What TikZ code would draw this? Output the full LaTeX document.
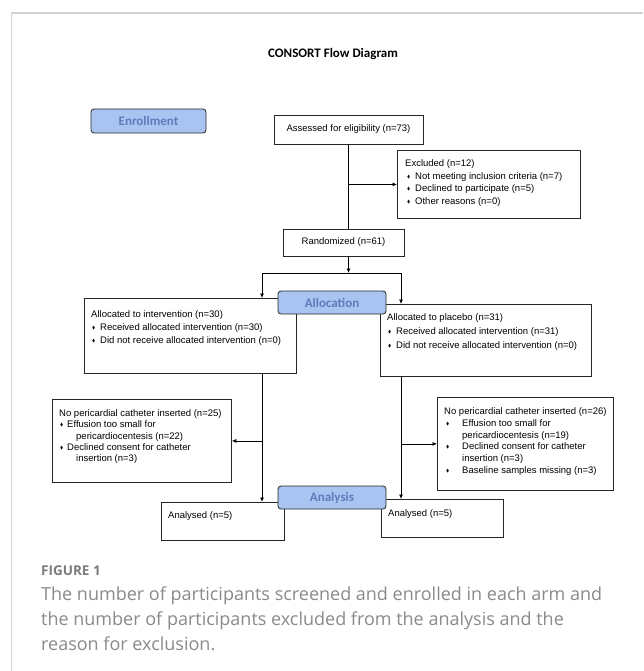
\documentclass[tikz,border=0pt]{standalone}
\usepackage{fontspec}
\setmainfont{Liberation Sans}
\newfontfamily\calfont{Carlito}
\newfontfamily\capfont{Open Sans}
\usepackage{amssymb}
\usetikzlibrary{positioning,arrows.meta,calc}
\definecolor{phasefill}{RGB}{170,196,242}
\definecolor{phasetext}{RGB}{92,124,186}
\definecolor{capgray}{RGB}{138,138,138}
\definecolor{framegray}{RGB}{210,210,210}
\newcommand{\dmd}{\raisebox{0.9pt}{\scalebox{0.5}{$\blacklozenge$}}}
\newcommand{\bul}[2]{\makebox[#2][l]{\hspace*{#1}\dmd}}
\tikzset{
  box/.style    ={draw=black!85, line width=0.8pt, rectangle, inner sep=0pt, font=\fontsize{9.5}{12}\selectfont},
  lbl/.style    ={anchor=north west, align=left, inner sep=0pt, xshift=7pt, font=\fontsize{9.5}{12}\selectfont},
  phase/.style  ={draw=black!85, line width=0.8pt, rounded corners=3pt, fill=phasefill, text=phasetext, inner sep=0pt, font=\calfont\bfseries\fontsize{13}{15}\selectfont},
  title/.style  ={font=\calfont\bfseries\fontsize{13}{15}\selectfont},
  figlbl/.style ={text=capgray!90!black, inner sep=0pt, font=\capfont\bfseries\fontsize{13.5}{16}\selectfont},
  figcap/.style ={text=capgray, inner sep=0pt, align=left, font=\capfont\fontsize{18}{24.8}\selectfont},
  arr/.style    ={-{Latex[length=4.5pt,width=4pt]}, line width=0.8pt},
}

\begin{document}
\begin{tikzpicture}[x=1pt, y=-1pt]
  \useasboundingbox[fill=white] (0,0) rectangle (643,671);
  \draw[framegray, line width=1.2pt] (11.5,671) -- (11.5,13) -- (643,13);

  \node[title] (ttl) at (333,54) {CONSORT Flow Diagram};

  % Enrollment
  \node[box, minimum width=149pt, minimum height=29pt] (assess) at (348.5,129.5) {Assessed for eligibility (n=73)};
  \node[box, anchor=north west, minimum width=183pt, minimum height=68pt,
        label={[lbl, xshift=1pt, yshift=-9.4pt, font=\fontsize{9.5}{12.7}\selectfont]north west:{Excluded (n=12)\\
          \bul{2pt}{10pt}Not meeting inclusion criteria (n=7)\\
          \bul{2pt}{10pt}Declined to participate (n=5)\\
          \bul{2pt}{10pt}Other reasons (n=0)}}] (excl) at (397,150) {};
  \node[box, minimum width=121pt, minimum height=27pt] (rand) at (343.5,242.5) {Randomized (n=61)};

  % Allocation
  \node[box, anchor=north west, minimum width=212pt, minimum height=75pt,
        label={[lbl, yshift=-12.4pt, font=\fontsize{9.5}{13}\selectfont]north west:{Allocated to intervention (n=30)\\
          \bul{1pt}{9pt}Received allocated intervention (n=30)\\
          \bul{1pt}{9pt}Did not receive allocated intervention (n=0)}}] (alloc1) at (84,298) {};
  \node[box, anchor=north west, minimum width=211pt, minimum height=72pt,
        label={[lbl, yshift=-9.4pt, font=\fontsize{9.5}{14}\selectfont]north west:{Allocated to placebo (n=31)\\
          \bul{1pt}{9pt}Received allocated intervention (n=31)\\
          \bul{1pt}{9pt}Did not receive allocated intervention (n=0)}}] (alloc2) at (380,304) {};

  % Follow-up
  \node[box, anchor=north west, minimum width=179pt, minimum height=83pt,
        label={[lbl, yshift=-10.4pt, font=\fontsize{9.5}{11.3}\selectfont]north west:{No pericardial catheter inserted (n=25)\\
          \bul{1pt}{8pt}Effusion too small for\\
          \hspace*{17pt}pericardiocentesis (n=22)\\
          \bul{1pt}{8pt}Declined consent for catheter\\
          \hspace*{17pt}insertion (n=3)}}] (ncl) at (52,399) {};
  \node[box, anchor=north west, minimum width=176pt, minimum height=93pt,
        label={[lbl, yshift=-10.4pt, font=\fontsize{9.5}{11.8}\selectfont]north west:{No pericardial catheter inserted (n=26)\\
          \bul{2pt}{18pt}Effusion too small for\\
          \hspace*{18pt}pericardiocentesis (n=19)\\
          \bul{2pt}{18pt}Declined consent for catheter\\
          \hspace*{18pt}insertion (n=3)\\
          \bul{2pt}{18pt}Baseline samples missing (n=3)}}] (ncr) at (437,397) {};

  % Analysis
  \node[box, anchor=north west, minimum width=123pt, minimum height=38pt,
        label={[lbl, yshift=-9.4pt]north west:{Analysed (n=5)}}] (an1) at (161,502) {};
  \node[box, anchor=north west, minimum width=122pt, minimum height=38pt,
        label={[lbl, yshift=-10.4pt]north west:{Analysed (n=5)}}] (an2) at (381,499) {};

  % phase labels on top of the boxes
  \node[phase, minimum width=115pt, minimum height=24pt] (enrol) at (148.5,121) {Enrollment};
  \node[phase, minimum width=108pt, minimum height=23pt] (allocph) at (332,302.5) {Allocation};
  \node[phase, minimum width=108pt, minimum height=23pt] (anaph) at (332,497.5) {Analysis};

  % connectors
  \coordinate (armL) at (262,273);
  \coordinate (armR) at (401,273);
  \draw[line width=0.8pt] (assess.south) -- (assess.south |- rand.north);
  \draw[arr] (assess.south |- excl.west) -- (excl.west);
  \draw[arr] (assess.south |- rand.south) -- (assess.south |- armL);
  \draw[line width=0.8pt] (armL) -- (armR);
  \draw[arr] (armL) -- (armL |- alloc1.north);
  \draw[arr] (armR) -- (armR |- alloc2.north);
  \draw[arr] (armL |- alloc1.south) -- (armL |- an1.north);
  \draw[arr] (armL |- ncl.east) -- (ncl.east);
  \draw[arr] (armR |- alloc2.south) -- (armR |- an2.north);
  \draw[arr] (armR |- ncr.west) -- (ncr.west);

  % caption
  \node[figlbl, anchor=base west] (figno) at (41,575) {FIGURE 1};
  \node[figcap, anchor=north west] (figtxt) at (41,587) {The number of participants screened and enrolled in each arm and\\
    the number of participants excluded from the analysis and the\\
    reason for exclusion.};
\end{tikzpicture}
\end{document}
